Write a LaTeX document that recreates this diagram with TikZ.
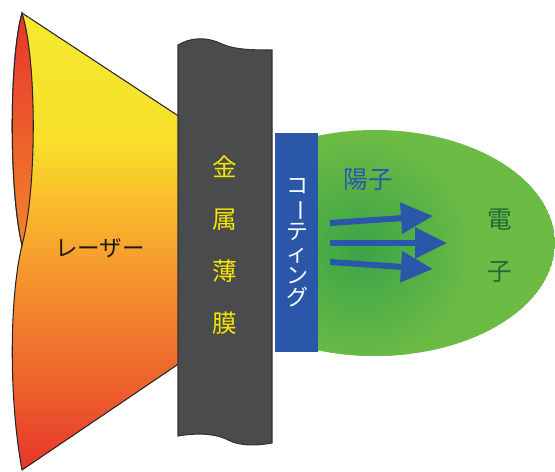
\documentclass[tikz,border=0pt]{standalone}
\usepackage{fontspec}
\setmainfont{Noto Sans CJK JP}
\usepackage{tikz}
\usetikzlibrary{arrows.meta}
\usetikzlibrary{positioning}
\definecolor{laseryellow}{HTML}{F4EA2E}
\definecolor{laseramber}{HTML}{F7DF2A}
\definecolor{lasergold}{HTML}{F9C22B}
\definecolor{laserorange}{HTML}{F7A52D}
\definecolor{laserdeep}{HTML}{F2842D}
\definecolor{laserember}{HTML}{EC5A2C}
\definecolor{laserred}{HTML}{E6352A}
\definecolor{foilgray}{HTML}{4A4B4D}
\definecolor{coatblue}{HTML}{2B57A8}
\definecolor{plasmalight}{HTML}{6CBB45}
\definecolor{plasmadark}{HTML}{3AA447}
\definecolor{electrongreen}{HTML}{1F6B36}
\definecolor{titleyellow}{HTML}{F5E600}
\pgfdeclareverticalshading{laserfade}{100bp}{%
  color(0bp)=(laserred); color(25bp)=(laserred);
  color(32.7bp)=(laserember); color(42.5bp)=(laserdeep);
  color(49.5bp)=(laserorange); color(55.3bp)=(lasergold);
  color(60.8bp)=(laseramber); color(75bp)=(laseryellow);
  color(100bp)=(laseryellow)}
\tikzstyle{outline} = [draw=black!85, line width=0.6pt]
\tikzstyle{beam} = [draw=coatblue, line width=0.12cm,
  -{Triangle[length=0.64cm,width=0.6cm]}]

\begin{document}
\begin{tikzpicture}[x=0.02cm, y=-0.02cm,
  label/.style={inner sep=0pt, align=center},
  bigtxt/.style={label, font=\fontsize{14pt}{29.6pt}\selectfont}]
  \useasboundingbox (0,0) rectangle (555,472);
  %% Laser pulse
  \shade [outline, shading=laserfade]
    (22,13) -- (180,117) -- (180,363) -- (22,470)
    .. controls (9,400) and (9,300) .. (22,245)
    .. controls (9,190) and (9,60) .. (22,13) -- cycle;
  \shade [outline, top color=laserred, bottom color=laserdeep]
    (22,13) .. controls (9,60) and (9,190) .. (22,245)
    .. controls (37,190) and (37,60) .. (22,13) -- cycle;
  %% Plasma cloud
  \begin{scope}
    \clip (290,0) rectangle (555,472);
    \clip (375,243) ellipse (180 and 113);
    \fill [plasmalight] (375,243) ellipse (180 and 113);
    \shade [inner color=plasmadark, outer color=plasmalight]
      (360,250) circle (115);
  \end{scope}
  %% Foil
  \draw [draw=black!80, line width=0.6pt, fill=foilgray]
    (178,45) .. controls (190,38) and (205,36) .. (222,44)
    .. controls (235,50) and (255,50) .. (272,50) -- (272,443)
    .. controls (255,446) and (240,446) .. (228,440)
    .. controls (215,433) and (195,433) .. (178,436) -- cycle;
  %% Coating
  \fill [coatblue] (275,133) rectangle (318,352);
  %% Proton beams
  \coordinate (b1s) at (330,223);
  \coordinate (b1e) at (433,216);
  \coordinate (b2s) at (330,243);
  \coordinate (b2e) at (447,243);
  \coordinate (b3s) at (330,262);
  \coordinate (b3e) at (433,269);
  \path [beam] (b1s) -- (b1e);
  \path [beam] (b3s) -- (b3e);
  \path [beam] (b2s) -- (b2e);
  %% Labels
  \node [label, text=black!90, font=\fontsize{12.8pt}{14pt}\selectfont]
    (laser) at (100,248) {レーザー};
  \node [bigtxt, text=titleyellow] (foil) at (225,245) {金\\属\\薄\\膜};
  \node [label, text=white, font=\fontsize{12.5pt}{12.5pt}\selectfont]
    (coat) at (297,243)
    {コ\\\rotatebox[origin=c]{-90}{ー}\\テ\\ィ\\ン\\グ};
  \node [label, text=coatblue, font=\fontsize{14pt}{16pt}\selectfont]
    (proton) at (368,180) {陽子};
  \node [bigtxt, text=electrongreen] (electron) at (500,246) {電\\子};
\end{tikzpicture}
\end{document}
